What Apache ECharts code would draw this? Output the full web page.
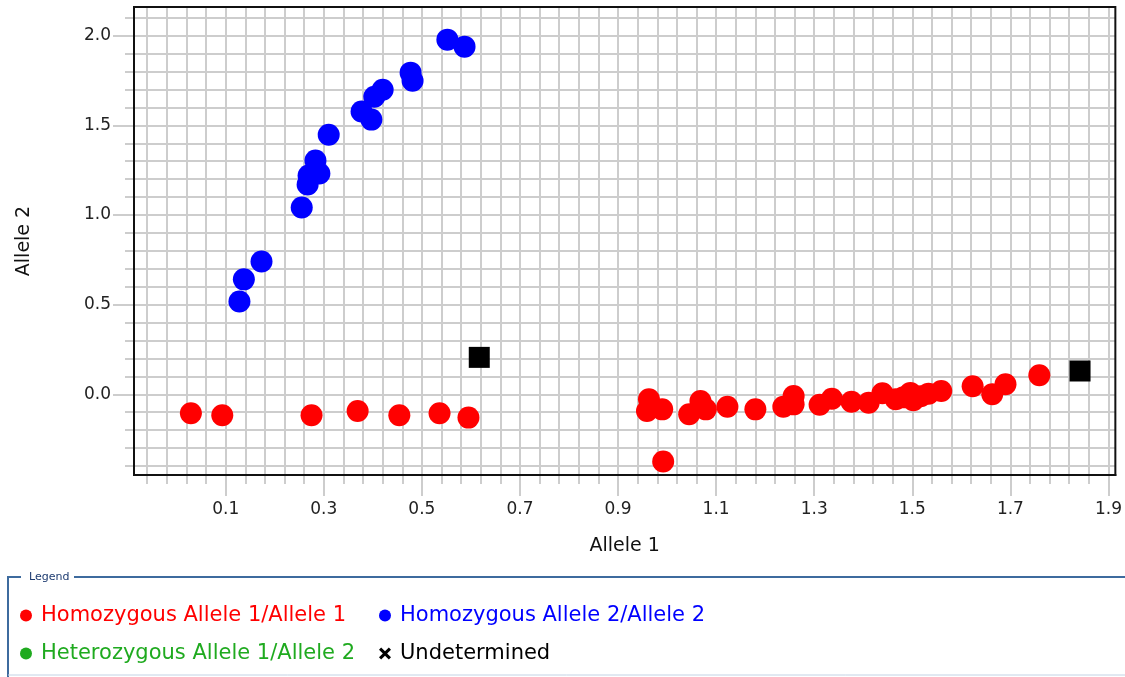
<!DOCTYPE html>
<html>
<head>
<meta charset="utf-8">
<title>Allelic discrimination plot</title>
<script src="https://cdn.jsdelivr.net/npm/echarts@6/dist/echarts.min.js"></script>
<style>
  html, body { margin: 0; padding: 0; background: #ffffff; }
  #chart { width: 1125px; height: 677px; }
</style>
</head>
<body>
<div id="chart"></div>
<script>
// ---- genotype call names ----
const NAME_HOM1 = 'Homozygous Allele 1/Allele 1';
const NAME_HOM2 = 'Homozygous Allele 2/Allele 2';
const NAME_HET = 'Heterozygous Allele 1/Allele 2';
const NAME_UND = 'Undetermined';

// ---- Homozygous Allele 1/Allele 1 (red) ----
const hom1X = [0.029, 0.093, 0.275, 0.369, 0.454, 0.536, 0.595,
  0.963, 0.959, 0.990, 0.992, 1.045, 1.068, 1.079, 1.123, 1.180, 1.237, 1.258, 1.258,
  1.311, 1.336, 1.376, 1.411, 1.439, 1.466, 1.482, 1.496, 1.502, 1.517, 1.533, 1.559,
  1.623, 1.663, 1.690, 1.759];
const hom1Y = [-0.106, -0.117, -0.117, -0.093, -0.117, -0.106, -0.130,
  -0.028, -0.093, -0.084, -0.375, -0.111, -0.037, -0.084, -0.069, -0.084, -0.069, -0.009, -0.056,
  -0.058, -0.025, -0.042, -0.047, 0.006, -0.028, -0.017, 0.008, -0.033, -0.011, 0.003, 0.018,
  0.045, 0.000, 0.056, 0.106];

// ---- Homozygous Allele 2/Allele 2 (blue) ----
const hom2X = [0.128, 0.137, 0.173, 0.255, 0.267, 0.269, 0.291, 0.283, 0.310,
  0.377, 0.397, 0.403, 0.420, 0.477, 0.481, 0.552, 0.587];
const hom2Y = [0.518, 0.641, 0.741, 1.042, 1.170, 1.220, 1.231, 1.304, 1.448,
  1.577, 1.532, 1.660, 1.699, 1.794, 1.749, 1.978, 1.939];

// ---- Heterozygous Allele 1/Allele 2 (green, no calls in this run) ----
const hetX = [];
const hetY = [];

// ---- Undetermined (black) ----
const undX = [0.617, 1.842];
const undY = [0.206, 0.130];

// ---- axis ranges and tick labels ----
const X_MIN = -0.087, X_MAX = 1.914;
const Y_MIN = -0.45, Y_MAX = 2.16;
const xLabelTicks = [0.1, 0.3, 0.5, 0.7, 0.9, 1.1, 1.3, 1.5, 1.7, 1.9];
const yLabelTicks = [0.0, 0.5, 1.0, 1.5, 2.0];
const X_GRID_STEP = 0.04;
const Y_GRID_STEP = 0.1;

// grid-line positions, stepping out from the first labelled tick
function gridValues(anchor, step, lo, hi) {
  const out = [];
  const kLo = Math.ceil((lo - anchor) / step - 1e-9);
  const kHi = Math.floor((hi - anchor) / step + 1e-9);
  for (let k = kLo; k <= kHi; k++) out.push(Math.round((anchor + k * step) * 10000) / 10000);
  return out;
}
const xGrid = gridValues(xLabelTicks[0], X_GRID_STEP, X_MIN + 0.005, X_MAX - 0.005);
const yGrid = gridValues(yLabelTicks[0], Y_GRID_STEP, Y_MIN + 0.01, Y_MAX - 0.01);

const pairs = (xs, ys) => xs.map((x, i) => [x, ys[i]]);

const FONT = 'DejaVu Sans';
const GRID_COLOR = '#cdcdcd';
const FRAME_COLOR = '#111111';
const C_RED = '#ff0000', C_BLUE = '#0000ff', C_GREEN = '#1faa1f', C_BLACK = '#000000';
const X_ICON = 'path://M0,2.5 L2.5,0 L7,4.5 L11.5,0 L14,2.5 L9.5,7 L14,11.5 L11.5,14 L7,9.5 L2.5,14 L0,11.5 L4.5,7 Z';

const chart = echarts.init(document.getElementById('chart'), null, { renderer: 'canvas' });

const fmt = v => Number(v).toFixed(1);
const frameLine = { show: true, onZero: false, lineStyle: { color: FRAME_COLOR, width: 2 } };

chart.setOption({
  animation: false,
  backgroundColor: '#ffffff',
  grid: {
    left: 134, top: 7, width: 984, height: 468,
    show: true, backgroundColor: 'transparent',
    borderColor: FRAME_COLOR, borderWidth: 2, z: 5
  },
  xAxis: [
    {
      type: 'value', min: X_MIN, max: X_MAX, position: 'bottom',
      axisLine: frameLine,
      axisTick: { show: true, length: 9, customValues: xGrid, lineStyle: { color: GRID_COLOR, width: 2 } },
      splitLine: { show: true, lineStyle: { color: GRID_COLOR, width: 2 } },
      axisLabel: {
        customValues: xLabelTicks, formatter: fmt, margin: 26,
        fontSize: 17, fontFamily: FONT, color: '#222222'
      },
      name: 'Allele 1', nameLocation: 'middle', nameGap: 62,
      nameTextStyle: { fontSize: 19, fontFamily: FONT, color: '#111111' }
    },
    {
      type: 'value', min: X_MIN, max: X_MAX, position: 'bottom',
      axisLine: frameLine,
      axisTick: { show: true, length: 21, customValues: xLabelTicks, lineStyle: { color: GRID_COLOR, width: 2 } },
      splitLine: { show: false },
      axisLabel: { show: false }
    }
  ],
  yAxis: [
    {
      type: 'value', min: Y_MIN, max: Y_MAX, position: 'left',
      axisLine: frameLine,
      axisTick: { show: true, length: 9, customValues: yGrid, lineStyle: { color: GRID_COLOR, width: 2 } },
      splitLine: { show: true, lineStyle: { color: GRID_COLOR, width: 2 } },
      axisLabel: {
        customValues: yLabelTicks, formatter: fmt, margin: 23,
        fontSize: 17, fontFamily: FONT, color: '#222222'
      },
      name: 'Allele 2', nameLocation: 'middle', nameGap: 100, nameRotate: 90,
      nameTextStyle: { fontSize: 19, fontFamily: FONT, color: '#111111' }
    },
    {
      type: 'value', min: Y_MIN, max: Y_MAX, position: 'left',
      axisLine: frameLine,
      axisTick: { show: true, length: 21, customValues: yLabelTicks, lineStyle: { color: GRID_COLOR, width: 2 } },
      splitLine: { show: false },
      axisLabel: { show: false }
    }
  ],
  legend: [
    {
      left: 15, top: 600, orient: 'vertical', itemGap: 17,
      itemWidth: 20, itemHeight: 12, selectedMode: false,
      textStyle: { fontSize: 21, fontFamily: FONT },
      data: [
        { name: NAME_HOM1, icon: 'circle', textStyle: { color: C_RED } },
        { name: NAME_HET, icon: 'circle', textStyle: { color: C_GREEN } }
      ]
    },
    {
      left: 374, top: 600, orient: 'vertical', itemGap: 17,
      itemWidth: 20, itemHeight: 12, selectedMode: false,
      textStyle: { fontSize: 21, fontFamily: FONT },
      data: [
        { name: NAME_HOM2, icon: 'circle', textStyle: { color: C_BLUE } },
        { name: NAME_UND, icon: X_ICON, itemStyle: { color: C_BLACK }, textStyle: { color: C_BLACK } }
      ]
    }
  ],
  graphic: [
    // fieldset-style frame around the legend
    { type: 'line', silent: true, shape: { x1: 8, y1: 577, x2: 21, y2: 577 }, style: { stroke: '#3e6b9e', lineWidth: 2 } },
    { type: 'line', silent: true, shape: { x1: 74, y1: 577, x2: 1125, y2: 577 }, style: { stroke: '#3e6b9e', lineWidth: 2 } },
    { type: 'line', silent: true, shape: { x1: 8, y1: 576, x2: 8, y2: 677 }, style: { stroke: '#3e6b9e', lineWidth: 2 } },
    { type: 'line', silent: true, shape: { x1: 8, y1: 675, x2: 1125, y2: 675 }, style: { stroke: '#c3d2e4', lineWidth: 1 } },
    {
      type: 'text', silent: true, x: 29, y: 577,
      style: { text: 'Legend', fontSize: 11, fontFamily: FONT, fill: '#1d3b70', verticalAlign: 'middle' }
    }
  ],
  series: [
    {
      name: NAME_HOM1, type: 'scatter', xAxisIndex: 0, yAxisIndex: 0,
      symbol: 'circle', symbolSize: 22, itemStyle: { color: C_RED, opacity: 1 },
      data: pairs(hom1X, hom1Y)
    },
    {
      name: NAME_HOM2, type: 'scatter', xAxisIndex: 0, yAxisIndex: 0,
      symbol: 'circle', symbolSize: 22, itemStyle: { color: C_BLUE, opacity: 1 },
      data: pairs(hom2X, hom2Y)
    },
    {
      name: NAME_HET, type: 'scatter', xAxisIndex: 0, yAxisIndex: 0,
      symbol: 'circle', symbolSize: 22, itemStyle: { color: C_GREEN, opacity: 1 },
      data: pairs(hetX, hetY)
    },
    {
      name: NAME_UND, type: 'scatter', xAxisIndex: 0, yAxisIndex: 0,
      symbol: 'rect', symbolSize: 21, itemStyle: { color: C_BLACK, opacity: 1 },
      data: pairs(undX, undY)
    }
  ]
});
</script>
</body>
</html>
